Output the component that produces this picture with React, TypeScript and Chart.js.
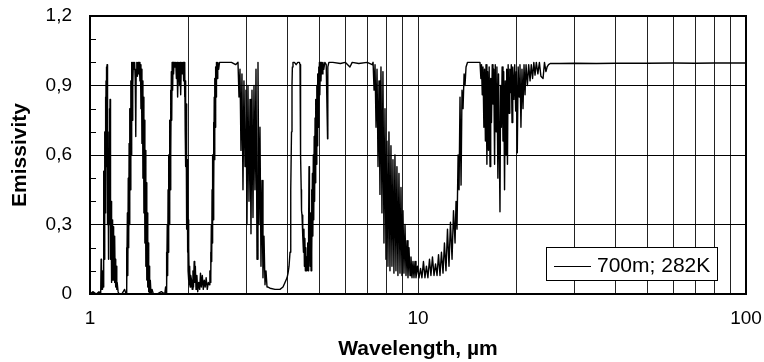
import React, { useEffect, useRef } from 'react';
import { Chart, registerables } from 'chart.js';

Chart.register(...registerables);

const FONT = '"Liberation Sans", Arial, Helvetica, sans-serif';

const seriesLabel = '700m; 282K';
const xTitle = 'Wavelength, µm';
const yTitle = 'Emissivity';
const xGridValues = [1, 2, 3, 4, 5, 6, 7, 8, 9, 10, 20, 30, 40, 50, 60, 70, 80, 90, 100];
const xTickLabels = [1, 10, 100];
const yTickValues = [0, 0.3, 0.6, 0.9, 1.2];
const yTickLabels = ['0', '0,3', '0,6', '0,9', '1,2'];
const yMinorTicks = [0.1, 0.2, 0.4, 0.5, 0.7, 0.8, 1.0, 1.1];

// [wavelength µm, emissivity]
const band1: [number, number][] = [
  [1.000, 0.00], [1.020, 0.01], [1.045, 0.00], [1.065, 0.01], [1.078, 0.00], [1.081, 0.15], [1.083, 0.02],
  [1.085, 0.13], [1.088, 0.02], [1.092, 0.10], [1.097, 0.03], [1.099, 0.25], [1.101, 0.08], [1.103, 0.53],
  [1.105, 0.20], [1.107, 0.45], [1.109, 0.15], [1.111, 0.70], [1.113, 0.35], [1.115, 0.85], [1.117, 0.40],
  [1.119, 0.92], [1.121, 0.55], [1.123, 0.98], [1.125, 0.60], [1.127, 0.99], [1.129, 0.45], [1.131, 0.85],
  [1.133, 0.30], [1.135, 0.60], [1.137, 0.15], [1.139, 0.45], [1.141, 0.25], [1.143, 0.70], [1.145, 0.30],
  [1.147, 0.80], [1.149, 0.40], [1.151, 0.84], [1.153, 0.45], [1.155, 0.60], [1.157, 0.15], [1.159, 0.40],
  [1.161, 0.05], [1.164, 0.30], [1.166, 0.08], [1.168, 0.25], [1.170, 0.06], [1.172, 0.32], [1.174, 0.10],
  [1.176, 0.28], [1.178, 0.06], [1.180, 0.29], [1.183, 0.10], [1.185, 0.22], [1.188, 0.05], [1.190, 0.25],
  [1.193, 0.08], [1.196, 0.15], [1.200, 0.03], [1.203, 0.12], [1.207, 0.02], [1.210, 0.05], [1.218, 0.01],
  [1.226, 0.00],
];

const band2: [number, number][] = [
  [1.250, 0.00], [1.275, 0.02], [1.288, 0.00], [1.292, 0.20], [1.296, 0.02], [1.300, 0.35], [1.304, 0.08],
  [1.308, 0.50], [1.312, 0.20], [1.316, 0.65], [1.320, 0.30], [1.324, 0.80], [1.328, 0.45], [1.332, 0.92],
  [1.336, 0.60], [1.340, 1.00], [1.344, 0.75], [1.348, 1.00], [1.352, 0.90], [1.356, 1.00], [1.362, 0.97],
  [1.368, 1.00], [1.374, 0.92], [1.379, 0.68], [1.383, 0.97], [1.389, 1.00], [1.395, 0.94], [1.401, 1.00],
  [1.407, 0.95], [1.413, 1.00], [1.420, 0.92], [1.425, 0.99], [1.430, 0.80], [1.435, 0.97], [1.440, 0.65],
  [1.445, 0.92], [1.450, 0.50], [1.455, 0.85], [1.460, 0.35], [1.465, 0.75], [1.470, 0.22], [1.475, 0.62],
  [1.480, 0.12], [1.485, 0.48], [1.490, 0.06], [1.495, 0.35], [1.500, 0.03], [1.505, 0.22], [1.510, 0.01],
  [1.515, 0.12], [1.520, 0.00], [1.527, 0.06], [1.535, 0.00], [1.546, 0.02], [1.560, 0.00],
];

const band3: [number, number][] = [
  [1.600, 0.00], [1.650, 0.01], [1.690, 0.00], [1.700, 0.03], [1.705, 0.00], [1.710, 0.18], [1.715, 0.02],
  [1.720, 0.30], [1.725, 0.08], [1.730, 0.45], [1.735, 0.18], [1.740, 0.60], [1.745, 0.30], [1.750, 0.75],
  [1.755, 0.45], [1.760, 0.88], [1.765, 0.60], [1.770, 0.96], [1.775, 0.75], [1.780, 1.00], [1.786, 0.88],
  [1.792, 1.00], [1.798, 0.95], [1.805, 1.00], [1.815, 0.98], [1.826, 1.00], [1.834, 0.93], [1.842, 1.00],
  [1.850, 0.85], [1.858, 0.98], [1.866, 1.00], [1.874, 0.90], [1.882, 1.00], [1.890, 0.86], [1.898, 0.98],
  [1.906, 1.00], [1.914, 0.95], [1.922, 1.00], [1.930, 0.92], [1.938, 1.00], [1.943, 0.85], [1.947, 0.98],
  [1.951, 0.70], [1.955, 0.92], [1.959, 0.55], [1.963, 0.82], [1.967, 0.40], [1.971, 0.70], [1.975, 0.28],
  [1.979, 0.58], [1.983, 0.18], [1.987, 0.45], [1.991, 0.10], [1.995, 0.32], [1.999, 0.06], [2.003, 0.20],
  [2.008, 0.04], [2.013, 0.12], [2.020, 0.03], [2.028, 0.08],
];

const band4: [number, number][] = [
  [2.040, 0.06], [2.050, 0.02], [2.060, 0.10], [2.068, 0.03], [2.078, 0.14], [2.086, 0.05], [2.095, 0.12],
  [2.105, 0.02], [2.118, 0.08], [2.130, 0.01], [2.145, 0.05], [2.160, 0.02], [2.172, 0.09], [2.185, 0.03],
  [2.200, 0.08], [2.215, 0.02], [2.230, 0.06], [2.245, 0.03], [2.260, 0.07], [2.278, 0.02], [2.295, 0.05],
  [2.312, 0.04], [2.320, 0.10], [2.326, 0.05], [2.332, 0.18], [2.338, 0.08], [2.344, 0.30], [2.350, 0.14],
  [2.356, 0.45], [2.362, 0.22], [2.368, 0.60], [2.374, 0.32], [2.380, 0.74], [2.386, 0.45], [2.392, 0.85],
  [2.398, 0.58], [2.404, 0.93], [2.410, 0.72], [2.416, 0.98], [2.422, 0.85], [2.430, 1.00], [2.440, 0.93],
  [2.452, 1.00], [2.468, 0.97], [2.482, 1.00], [2.510, 1.00],
];

const band5: [number, number][] = [
  [2.600, 1.00], [2.700, 1.00], [2.780, 0.99], [2.826, 1.00], [2.846, 0.85], [2.866, 0.97], [2.886, 0.62],
  [2.906, 0.95], [2.927, 0.45], [2.947, 0.92], [2.969, 0.55], [2.989, 0.88], [3.010, 0.30], [3.031, 0.90],
  [3.053, 0.40], [3.075, 0.84], [3.096, 0.26], [3.118, 0.88], [3.140, 0.33], [3.162, 0.90], [3.184, 0.45],
  [3.207, 0.97], [3.230, 0.15], [3.252, 1.00], [3.275, 0.30], [3.298, 0.72], [3.321, 0.12], [3.345, 0.49],
  [3.368, 0.07], [3.392, 0.25], [3.416, 0.04], [3.440, 0.10], [3.465, 0.03],
];

const band6: [number, number][] = [
  [3.489, 0.03], [3.539, 0.025], [3.664, 0.02], [3.795, 0.02], [3.876, 0.03], [3.931, 0.05], [3.988, 0.07],
  [4.016, 0.09], [4.044, 0.12], [4.072, 0.18], [4.086, 0.25], [4.100, 0.45], [4.115, 0.70], [4.129, 0.90],
  [4.140, 0.98],
];

const band7: [number, number][] = [
  [4.158, 1.00], [4.200, 1.00], [4.250, 0.99], [4.300, 1.00], [4.350, 1.00], [4.368, 0.99], [4.375, 0.74],
  [4.385, 0.73], [4.395, 0.60], [4.405, 0.45], [4.415, 0.36], [4.430, 0.34], [4.445, 0.30], [4.460, 0.25],
  [4.475, 0.18], [4.490, 0.28], [4.505, 0.12], [4.520, 0.24], [4.535, 0.10], [4.550, 0.20], [4.565, 0.10],
  [4.580, 0.16], [4.595, 0.12], [4.610, 0.22], [4.625, 0.10], [4.640, 0.30], [4.653, 0.55], [4.660, 0.15],
  [4.675, 0.28], [4.690, 0.12], [4.705, 0.35], [4.720, 0.10], [4.735, 0.45], [4.750, 0.18], [4.765, 0.52],
  [4.780, 0.25], [4.795, 0.60], [4.810, 0.32], [4.825, 0.68], [4.840, 0.40], [4.855, 0.76], [4.870, 0.48],
  [4.885, 0.84], [4.900, 0.56], [4.915, 0.90], [4.930, 0.64], [4.945, 0.95], [4.960, 0.72], [4.975, 0.98],
  [4.990, 0.80], [5.005, 1.00], [5.020, 0.86], [5.040, 1.00], [5.060, 0.92], [5.080, 1.00], [5.100, 0.95],
  [5.130, 1.00], [5.160, 0.97], [5.200, 1.00], [5.250, 0.99], [5.300, 0.67], [5.310, 0.98], [5.350, 1.00],
];

const band8: [number, number][] = [
  [5.50, 1.00], [5.80, 0.995], [6.00, 1.00], [6.20, 0.98], [6.30, 1.00], [6.60, 0.995], [7.00, 1.00], [7.25, 0.99],
];

const band9: [number, number][] = [
  [7.295, 1.00], [7.346, 0.88], [7.396, 0.99], [7.448, 0.72], [7.500, 0.97], [7.553, 0.55], [7.605, 0.92],
  [7.657, 0.43], [7.711, 0.98], [7.765, 0.35], [7.819, 0.96], [7.874, 0.22], [7.931, 0.80], [7.986, 0.15],
  [8.042, 0.66], [8.099, 0.12], [8.156, 0.70], [8.214, 0.10], [8.271, 0.64], [8.329, 0.12], [8.388, 0.58],
  [8.446, 0.09], [8.506, 0.60], [8.566, 0.10], [8.626, 0.55], [8.686, 0.08], [8.749, 0.52], [8.812, 0.09],
  [8.874, 0.46], [8.935, 0.08], [8.998, 0.36], [9.062, 0.09], [9.129, 0.30], [9.193, 0.08], [9.258, 0.23],
  [9.322, 0.07], [9.388, 0.20], [9.454, 0.08], [9.520, 0.16], [9.587, 0.07], [9.655, 0.14], [9.722, 0.07],
];

const band10: [number, number][] = [
  [9.792, 0.14], [9.860, 0.07], [9.965, 0.12], [10.07, 0.07], [10.18, 0.11], [10.28, 0.07], [10.39, 0.14],
  [10.50, 0.07], [10.61, 0.12], [10.72, 0.07], [10.84, 0.15], [10.95, 0.08], [11.07, 0.16], [11.19, 0.08],
  [11.31, 0.13], [11.43, 0.08], [11.55, 0.17], [11.67, 0.08], [11.79, 0.18], [11.92, 0.09], [12.04, 0.22],
  [12.17, 0.10], [12.30, 0.28], [12.43, 0.12], [12.56, 0.31], [12.70, 0.15], [12.83, 0.36], [12.97, 0.22],
  [13.06, 0.40], [13.15, 0.28], [13.25, 0.60], [13.34, 0.45], [13.43, 0.85], [13.53, 0.47], [13.62, 0.88],
  [13.72, 0.80], [13.82, 0.95], [13.91, 0.90], [14.01, 0.98], [14.16, 1.00], [14.50, 1.00], [15.00, 1.00],
  [15.45, 1.00],
];

const band11: [number, number][] = [
  [15.55, 0.93], [15.62, 0.99], [15.70, 0.86], [15.78, 0.98], [15.88, 0.72], [15.95, 0.97], [16.05, 0.66],
  [16.12, 0.99], [16.22, 0.56], [16.30, 0.96], [16.40, 0.62], [16.48, 0.98], [16.58, 0.55], [16.66, 0.93],
  [16.75, 0.74], [16.84, 0.99], [16.93, 0.82], [17.02, 0.97], [17.12, 0.56], [17.20, 0.99], [17.30, 0.70],
  [17.40, 0.98], [17.52, 0.50], [17.60, 0.95], [17.70, 0.62], [17.78, 0.355], [17.86, 0.90], [17.95, 0.72],
  [18.05, 0.98], [18.16, 0.66], [18.25, 0.96], [18.36, 0.45], [18.45, 0.92], [18.55, 0.60], [18.64, 0.97],
  [18.74, 0.56], [18.83, 0.99], [18.95, 0.78], [19.05, 0.97], [19.15, 0.87], [19.25, 0.99], [19.35, 0.74],
  [19.45, 0.98], [19.60, 0.84], [19.72, 0.99], [19.85, 0.79], [19.95, 0.96], [20.08, 0.61], [20.20, 0.98],
  [20.35, 0.85], [20.46, 0.99], [20.60, 0.72], [20.75, 0.97], [20.90, 0.80], [21.05, 0.99], [21.20, 0.86],
  [21.35, 0.99], [21.55, 0.90], [21.75, 0.99], [21.96, 0.92], [22.15, 0.99], [22.35, 0.93], [22.55, 1.00],
  [22.74, 0.945], [22.95, 1.00], [23.20, 0.95], [23.45, 1.00], [23.70, 0.94], [24.06, 0.93], [24.30, 1.00],
  [24.55, 0.96], [24.75, 0.98], [25.00, 0.99], [25.30, 0.995],
];

const band12: [number, number][] = [
  [27, 0.995], [30, 0.996], [35, 0.995], [40, 0.996], [50, 0.996], [60, 0.997], [70, 0.996], [80, 0.997],
  [90, 0.997], [100, 0.997],
];

const bands = [band1, band2, band3, band4, band5, band6, band7, band8, band9, band10, band11, band12];

export default function App() {
  const canvasRef = useRef<HTMLCanvasElement>(null);

  useEffect(() => {
    document.body.style.margin = '0';
    const canvas = canvasRef.current;
    if (!canvas) return;

    const points = bands.flat().map(([x, y]) => ({ x, y }));

    const decorPlugin = {
      id: 'decor',
      afterDatasetsDraw(chart: any) {
        const { ctx, chartArea: a, scales } = chart;
        ctx.save();
        ctx.strokeStyle = '#000';
        ctx.lineWidth = 1;
        ctx.beginPath();
        yMinorTicks.forEach((v) => {
          const y = Math.round(scales.y.getPixelForValue(v)) + 0.5;
          ctx.moveTo(a.left, y);
          ctx.lineTo(a.left + 6, y);
        });
        ctx.stroke();
        ctx.lineWidth = 2;
        ctx.strokeRect(a.left, a.top, a.right - a.left, a.bottom - a.top);
        ctx.font = `21px ${FONT}`;
        const tw = ctx.measureText(seriesLabel).width;
        const boxRight = Math.round(a.right - 29);
        const boxBottom = Math.round(a.bottom - 14);
        const boxH = 33;
        const boxW = Math.round(8 + 37 + 6 + tw + 7);
        const boxLeft = boxRight - boxW;
        const boxTop = boxBottom - boxH;
        ctx.fillStyle = '#fff';
        ctx.fillRect(boxLeft, boxTop, boxW, boxH);
        ctx.lineWidth = 1;
        ctx.strokeRect(boxLeft + 0.5, boxTop + 0.5, boxW, boxH);
        const midY = boxTop + 19;
        ctx.beginPath();
        ctx.moveTo(boxLeft + 8, midY + 0.5);
        ctx.lineTo(boxLeft + 45, midY + 0.5);
        ctx.stroke();
        ctx.fillStyle = '#000';
        ctx.textBaseline = 'middle';
        ctx.textAlign = 'left';
        ctx.fillText(seriesLabel, boxLeft + 51, midY);
        ctx.restore();
      },
    };

    const chart = new Chart(canvas, {
      type: 'line',
      data: {
        datasets: [
          {
            label: seriesLabel,
            data: points,
            borderColor: '#000',
            backgroundColor: '#000',
            borderWidth: 1.4,
            pointRadius: 0,
            fill: false,
            tension: 0,
            borderJoinStyle: 'round',
          },
        ],
      },
      options: {
        responsive: false,
        animation: false,
        devicePixelRatio: 1,
        layout: { padding: { top: 16, right: 18, left: 0, bottom: 0 } },
        plugins: { legend: { display: false }, tooltip: { enabled: false } },
        scales: {
          x: {
            type: 'logarithmic',
            min: 1,
            max: 100,
            afterBuildTicks: (s: any) => {
              s.ticks = xGridValues.map((v) => ({ value: v }));
            },
            afterFit: (s: any) => {
              s.height = 68;
              s.paddingLeft = 0;
              s.paddingRight = 0;
            },
            ticks: {
              autoSkip: false,
              maxRotation: 0,
              padding: 13,
              color: '#000',
              font: { family: FONT, size: 19 },
              callback: (v: any) => (xTickLabels.includes(Number(v)) ? String(v) : ''),
            },
            grid: { color: '#222', lineWidth: 1, drawTicks: false },
            border: { display: false },
            title: {
              display: true,
              text: xTitle,
              color: '#000',
              font: { family: FONT, size: 21, weight: 'bold' },
              padding: { top: 0, bottom: 0 },
            },
          },
          y: {
            min: 0,
            max: 1.2,
            afterBuildTicks: (s: any) => {
              s.ticks = yTickValues.map((v) => ({ value: v }));
            },
            afterFit: (s: any) => {
              s.width = 90;
              s.paddingTop = 0;
              s.paddingBottom = 0;
            },
            ticks: {
              padding: 18,
              color: '#000',
              font: { family: FONT, size: 19 },
              callback: (_v: any, i: number) => yTickLabels[i],
            },
            grid: { color: '#000', lineWidth: 1, drawTicks: false },
            border: { display: false },
            title: {
              display: true,
              text: yTitle,
              color: '#000',
              font: { family: FONT, size: 21, weight: 'bold' },
              padding: { top: 8, bottom: 0 },
            },
          },
        },
      },
      plugins: [decorPlugin],
    } as any);

    return () => chart.destroy();
  }, []);

  return (
    <div style={{ position: 'absolute', left: 0, top: 0, width: 764, height: 362, background: '#fff' }}>
      <canvas ref={canvasRef} width={764} height={362} />
    </div>
  );
}
